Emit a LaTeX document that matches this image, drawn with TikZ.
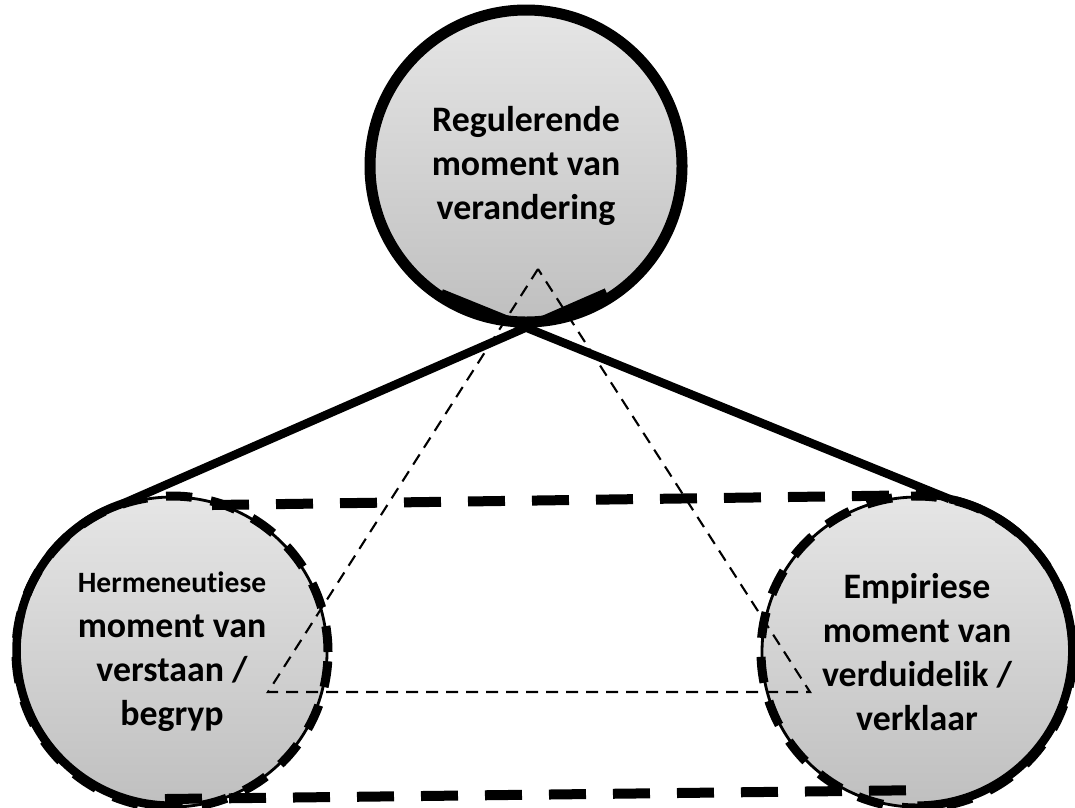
\documentclass[tikz,border=0pt]{standalone}
\usepackage{fontspec}
\setmainfont{Carlito}[Ligatures=NoCommon]
\usetikzlibrary{calc}

\begin{document}
\begin{tikzpicture}[
  moment/.style={circle, minimum size=3.1cm, inner sep=0pt, align=center,
    top color=gray!20, bottom color=gray!50, draw=black, line width=0.8pt,
    font=\bfseries\fontsize{10.2}{12.6}\selectfont},
  cone/.style={line width=0.085cm},
  longdash/.style={line width=0.1cm, dash pattern=on 0.37cm off 0.27cm},
  ringdash/.style={line width=0.09cm, dash pattern=on 0.26cm off 0.19cm},
  thindash/.style={line width=0.6pt, dash pattern=on 0.12cm off 0.08cm}]
  \useasboundingbox (0,0) rectangle (10.75,8.07);

  % the three moments
  \node[moment, minimum size=3.12cm, line width=0.11cm] (reg) at (5.26,6.41) {Regulerende\\moment van\\verandering};
  \node[moment] (herm) at (1.72,1.55) {{\fontsize{8.4}{10}\selectfont Hermeneutiese}\\moment van\\verstaan /\\begryp};
  \node[moment] (emp) at (9.17,1.55) {Empiriese\\moment van\\verduidelik /\\verklaar};

  % thin triangle
  \coordinate (apex) at (5.38,5.38);
  \coordinate (baseL) at (2.68,1.15);
  \coordinate (baseR) at (8.10,1.15);
  \draw[thindash] (apex) -- (baseL) -- (baseR) -- cycle;

  % cylinder
  \draw[ringdash] (herm.center) circle (1.56);
  \draw[ringdash] (emp.center) circle (1.56);
  \coordinate (topL) at (2.12,3.02);
  \coordinate (topR) at (9.32,3.12);
  \coordinate (botL) at (1.65,0.08);
  \coordinate (botR) at (9.32,0.17);
  \draw[longdash] (topL) -- (topR);
  \draw[longdash] (botL) -- (botR);

  % cone
  \draw[cone] (herm.108) arc (108:270:1.55);
  \draw[cone] (emp.78) arc (78:-90:1.55);
  \draw[cone] (herm.108) -- ($(herm.108)!1.2!(reg.south)$);
  \draw[cone] (emp.78) -- ($(emp.78)!1.2!(reg.south)$);
\end{tikzpicture}
\end{document}
